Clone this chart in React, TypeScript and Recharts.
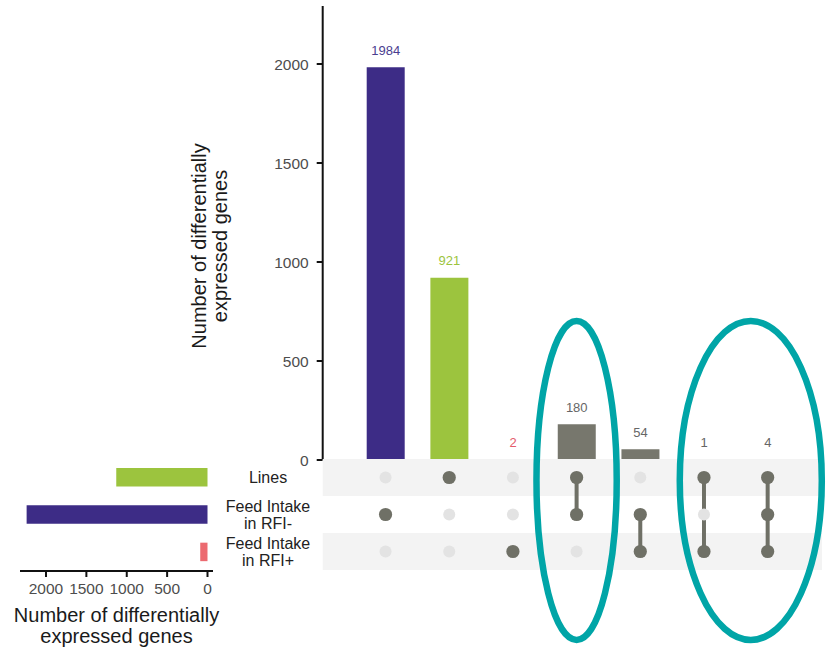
import React from "react";
import {
  Bar,
  BarChart,
  Cell,
  ComposedChart,
  LabelList,
  ReferenceArea,
  ReferenceLine,
  Scatter,
  XAxis,
  YAxis
} from "recharts";

// sets (rows of the matrix, top to bottom)
const setNames = ["Lines", "Feed Intake in RFI-", "Feed Intake in RFI+"];
const setLabelLines = [["Lines"], ["Feed Intake", "in RFI-"], ["Feed Intake", "in RFI+"]];
const setSizes = [1130, 2240, 90];
const setColors = ["#9cc43e", "#3d2c86", "#ec6a70"];

// intersections (columns)
const intersectionNames = [
  "RFI- only",
  "Lines only",
  "RFI+ only",
  "Lines & RFI-",
  "RFI- & RFI+",
  "Lines & RFI+",
  "Lines & RFI- & RFI+"
];
const intersectionCounts = [1984, 921, 2, 180, 54, 1, 4];
const intersectionMembers = [[1], [0], [2], [0, 1], [1, 2], [0, 2], [0, 1, 2]];
const intersectionColors = ["#3d2c86", "#9cc43e", "#ec6a70", "#77776d", "#77776d", "#77776d", "#77776d"];
const intersectionLabelColors = ["#4a3d8f", "#9cc43e", "#e45b6b", "#666666", "#666666", "#666666", "#666666"];

const countTicks = [0, 500, 1000, 1500, 2000];

// highlighted column groups (teal ellipses), in column units
const highlightGroups = [
  { from: 2.37, to: 3.63 },
  { from: 4.62, to: 6.85 }
];

const W = 826;
const H = 650;
const FONT = "'Liberation Sans', Arial, Helvetica, sans-serif";
const AXIS_TITLE = ["Number of differentially", "expressed genes"];

const barData = intersectionNames.map((name, i) => ({
  name,
  count: intersectionCounts[i],
  labelColor: intersectionLabelColors[i]
}));

const setData = setNames.map((name, i) => ({ name, size: setSizes[i] }));

const inactiveDots = [];
const activeDots = [];
intersectionMembers.forEach((members, col) => {
  setNames.forEach((_, row) => {
    if (members.includes(row)) activeDots.push({ col, row });
    else inactiveDots.push({ col, row });
  });
});

function CountLabel(props: any) {
  const { x, y, width, value } = props;
  const idx = intersectionCounts.indexOf(Number(value));
  return (
    <text
      x={x + width / 2}
      y={y - 12.5}
      textAnchor="middle"
      fontSize={13}
      fill={intersectionLabelColors[idx] || "#666"}
    >
      {value}
    </text>
  );
}

function TopTitle() {
  return (
    <g transform="translate(216, 246) rotate(-90)">
      <text textAnchor="middle" fontSize={20} fill="#1a1a1a">
        <tspan x={0} y={-10}>{AXIS_TITLE[0]}</tspan>
        <tspan x={0} y={11}>{AXIS_TITLE[1]}</tspan>
      </text>
    </g>
  );
}

function BottomTitle(props: any) {
  const vb = props.viewBox || { x: 20, width: 193 };
  const cx = vb.x + vb.width / 2;
  return (
    <text textAnchor="middle" fontSize={20} fill="#1a1a1a">
      <tspan x={cx} y={622}>{AXIS_TITLE[0]}</tspan>
      <tspan x={cx} y={643}>{AXIS_TITLE[1]}</tspan>
    </text>
  );
}

function SetTick(props: any) {
  const { y, payload } = props;
  const idx = setNames.indexOf(payload.value);
  const lines = setLabelLines[idx] || [payload.value];
  const start = y - ((lines.length - 1) * 17) / 2 + 5.5;
  return (
    <text textAnchor="middle" fontSize={16} fill="#222">
      {lines.map((line, i) => (
        <tspan key={line} x={268} y={start + i * 17}>
          {line}
        </tspan>
      ))}
    </text>
  );
}

function Dot({ cx, cy, fill, r }: any) {
  return <circle cx={cx} cy={cy} r={r} fill={fill} />;
}

function Ellipse(props: any) {
  const { x, y, width, height } = props;
  return (
    <ellipse
      cx={x + width / 2}
      cy={y + height / 2}
      rx={width / 2}
      ry={height / 2}
      fill="none"
      stroke="#00a5a7"
      strokeWidth={6.5}
    />
  );
}

const layer: React.CSSProperties = { position: "absolute", left: 0, top: 0 };

export default function App() {
  return (
    <div
      style={{
        position: "absolute",
        left: 0,
        top: 0,
        width: W,
        height: H,
        background: "#fff",
        fontFamily: FONT,
        overflow: "hidden"
      }}
    >
      {/* intersection sizes */}
      <div style={layer}>
        <BarChart
          width={W}
          height={H}
          data={barData}
          margin={{ top: 6, right: 26.5, bottom: 190, left: 250 }}
        >
          <XAxis dataKey="name" type="category" hide padding={{ left: 31, right: 0 }} />
          <YAxis
            type="number"
            domain={[0, 2293]}
            ticks={countTicks}
            width={72.7}
            axisLine={{ stroke: "#111", strokeWidth: 2 }}
            tickLine={{ stroke: "#111", strokeWidth: 2 }}
            tickSize={6}
            tickMargin={8}
            tick={{ fill: "#4d4d4d", fontSize: 15.5 }}
            label={{ content: () => <TopTitle /> }}
          />
          <Bar dataKey="count" barSize={38} isAnimationActive={false}>
            {barData.map((d, i) => (
              <Cell key={d.name} fill={intersectionColors[i]} />
            ))}
            <LabelList dataKey="count" content={(p: any) => <CountLabel {...p} />} />
          </Bar>
        </BarChart>
      </div>

      {/* set sizes */}
      <div style={layer}>
        <BarChart
          width={W}
          height={H}
          data={setData}
          layout="vertical"
          margin={{ top: 459, right: 500, bottom: 0, left: 20 }}
        >
          <XAxis
            type="number"
            reversed
            domain={[0, 2322]}
            ticks={countTicks}
            height={79}
            padding={{ left: 0, right: 5.5 }}
            axisLine={{ stroke: "#111", strokeWidth: 2 }}
            tickLine={{ stroke: "#111", strokeWidth: 2 }}
            tickSize={6}
            tickMargin={6}
            tick={{ fill: "#4d4d4d", fontSize: 15.5 }}
            label={{ content: (p: any) => <BottomTitle {...p} /> }}
          />
          <YAxis
            type="category"
            dataKey="name"
            orientation="right"
            width={113}
            axisLine={false}
            tickLine={false}
            tick={(p: any) => <SetTick {...p} />}
          />
          <Bar dataKey="size" barSize={18.5} isAnimationActive={false}>
            {setData.map((d, i) => (
              <Cell key={d.name} fill={setColors[i]} />
            ))}
          </Bar>
        </BarChart>
      </div>

      {/* membership matrix + highlights */}
      <div style={{ ...layer, pointerEvents: "none" }}>
        <ComposedChart
          width={W}
          height={H}
          margin={{ top: 459, right: 4, bottom: 80, left: 322.7 }}
        >
          <XAxis
            type="number"
            dataKey="col"
            domain={[-0.5, 6.5]}
            padding={{ left: 31, right: 22.5 }}
            hide
          />
          <YAxis type="number" dataKey="row" domain={[-0.5, 2.5]} reversed hide />
          {[0, 2].map((row) => (
            <ReferenceArea
              key={row}
              x1={-3}
              x2={9}
              y1={row - 0.5}
              y2={row + 0.5}
              fill="#f3f3f3"
              fillOpacity={1}
              stroke="none"
              ifOverflow="hidden"
            />
          ))}
          <Scatter
            data={inactiveDots}
            fill="#e3e3e3"
            isAnimationActive={false}
            shape={(p: any) => <Dot {...p} r={6} fill="#e3e3e3" />}
          />
          {intersectionMembers
            .map((members, col) => ({ col, members }))
            .filter((c) => c.members.length > 1)
            .map((c) => (
              <ReferenceLine
                key={c.col}
                segment={[
                  { x: c.col, y: Math.min(...c.members) },
                  { x: c.col, y: Math.max(...c.members) }
                ]}
                stroke="#6f7066"
                strokeWidth={4}
              />
            ))}
          <Scatter
            data={activeDots}
            fill="#6f7066"
            isAnimationActive={false}
            shape={(p: any) => <Dot {...p} r={6.6} fill="#6f7066" />}
          />
          {highlightGroups.map((g, i) => (
            <ReferenceArea
              key={`hl-${i}`}
              x1={g.from}
              x2={g.to}
              y1={-4.23}
              y2={4.39}
              ifOverflow="visible"
              shape={(p: any) => <Ellipse {...p} />}
            />
          ))}
        </ComposedChart>
      </div>
    </div>
  );
}
